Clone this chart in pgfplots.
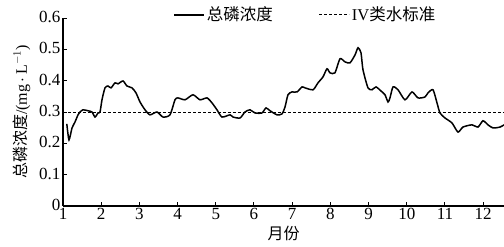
\documentclass[border=0pt]{standalone}
\usepackage{fontspec}
\setmainfont{Liberation Serif}
\newfontfamily\cjk{Noto Sans CJK SC}
\usepackage{pgfplots}
\pgfplotsset{compat=1.18}
\begin{document}
\begin{tikzpicture}[x=1bp,y=1bp]
\useasboundingbox (0,0) rectangle (504,246);
\begin{axis}[
  at={(63bp,40bp)}, anchor=south west,
  scale only axis, width=441bp, height=188bp,
  xmin=1, xmax=12.545, ymin=0, ymax=0.6,
  axis lines=left, axis line style={-, line width=1.1bp},
  tick align=inside, major tick length=4bp,
  tick style={line width=1bp, black},
  xtick={1,2,...,12},
  ytick={0,0.1,0.2,0.3,0.4,0.5,0.6},
  yticklabels={0,0.1,0.2,0.3,0.4,0.5,0.6},
  /pgf/number format/assume math mode=true,
  tick label style={font=\fontsize{17bp}{19bp}\selectfont},
  xticklabel style={yshift=1bp},
  yticklabel style={xshift=1bp, yshift=1bp},
  ylabel={{\cjk 总磷浓度}/(mg\,$\cdot$\,L$^{-1}$)},
  xlabel={\cjk 月份},
  label style={font=\fontsize{16bp}{18bp}\selectfont},
  ylabel style={yshift=2bp},
  xlabel style={yshift=1bp},
  legend style={draw=none, fill=none, at={(rel axis cs:0.25,1.07)}, anchor=north west,
    font=\fontsize{16.5bp}{18bp}\selectfont, inner sep=0pt},
  legend columns=2,
  legend image code/.code={\draw[#1] (0bp,0bp) -- (30bp,0bp);},
  clip=false,
]
\addplot[black, line width=1.5bp, smooth, tension=0.4] coordinates {
(1.10,0.262) (1.157,0.211) (1.236,0.249) (1.314,0.268) (1.393,0.291) (1.445,0.300)
(1.524,0.307) (1.654,0.304) (1.759,0.300) (1.838,0.284) (1.916,0.297) (1.969,0.300)
(2.021,0.339) (2.099,0.377) (2.178,0.383) (2.257,0.377) (2.361,0.393) (2.440,0.390)
(2.571,0.399) (2.675,0.383) (2.806,0.377) (2.911,0.361) (3.016,0.332) (3.147,0.307)
(3.277,0.291) (3.461,0.300) (3.618,0.284) (3.801,0.291) (3.932,0.339) (4.010,0.345)
(4.194,0.339) (4.403,0.355) (4.586,0.339) (4.770,0.345) (4.901,0.329) (5.031,0.307)
(5.162,0.284) (5.372,0.291) (5.450,0.284) (5.634,0.281) (5.764,0.300) (5.895,0.307)
(6.026,0.297) (6.209,0.297) (6.314,0.313) (6.419,0.304) (6.602,0.291) (6.733,0.294)
(6.812,0.316) (6.890,0.355) (6.995,0.364) (7.126,0.364) (7.257,0.380) (7.335,0.377)
(7.545,0.371) (7.675,0.393) (7.806,0.412) (7.911,0.438) (7.990,0.425) (8.120,0.425)
(8.251,0.470) (8.382,0.460) (8.513,0.457) (8.644,0.482) (8.723,0.505) (8.801,0.489)
(8.853,0.435) (8.984,0.377) (9.089,0.371) (9.194,0.380) (9.325,0.367) (9.429,0.355)
(9.508,0.332) (9.560,0.345) (9.639,0.380) (9.770,0.371) (9.953,0.339) (10.136,0.364)
(10.293,0.345) (10.476,0.348) (10.555,0.361) (10.686,0.371) (10.791,0.329) (10.869,0.297)
(11.000,0.281) (11.183,0.265) (11.340,0.236) (11.471,0.252) (11.707,0.259) (11.864,0.252)
(11.995,0.272) (12.126,0.259) (12.257,0.249) (12.440,0.252) (12.545,0.259)
};
\addlegendentry{\cjk 总磷浓度\hspace*{44bp}}
\addplot[black, line width=1bp, dash pattern=on 3bp off 2bp] coordinates {(1,0.3) (12.545,0.3)};
\addlegendentry{IV{\cjk 类水标准}}
\end{axis}
\end{tikzpicture}
\end{document}
